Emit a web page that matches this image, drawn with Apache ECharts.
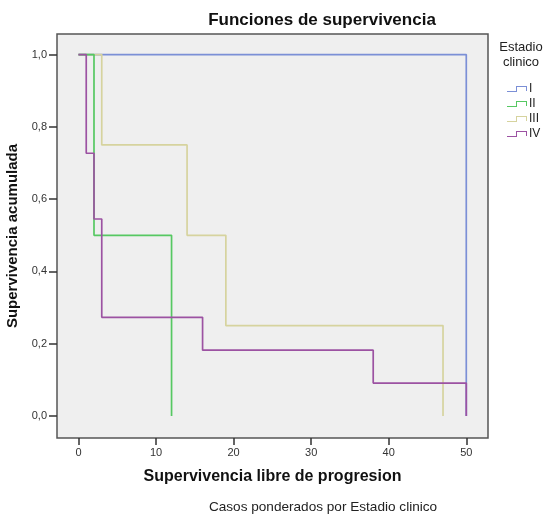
<!DOCTYPE html>
<html>
<head>
<meta charset="utf-8">
<script src="https://cdn.jsdelivr.net/npm/echarts@6/dist/echarts.min.js"></script>
<style>
html,body{margin:0;padding:0;background:#fff;}
#chart{width:544px;height:516px;}
</style>
</head>
<body>
<div id="chart"></div>
<script>
// Kaplan-Meier step data: [time, cumulative survival]
const stages = ['I', 'II', 'III', 'IV'];
const timesI = [0, 50];
const survI = [1.0, 0.0];
const timesII = [0, 2, 12];
const survII = [1.0, 0.5, 0.0];
const timesIII = [0, 3, 14, 19, 47];
const survIII = [1.0, 0.75, 0.5, 0.25, 0.0];
const timesIV = [0, 1, 2, 3, 16, 38, 50];
const survIV = [1.0, 0.727, 0.545, 0.273, 0.182, 0.091, 0.0];
const xTicks = [0, 10, 20, 30, 40, 50];
const yTicks = [0, 0.2, 0.4, 0.6, 0.8, 1.0];
const colors = ['#7b8fd6', '#56c862', '#d6d39e', '#9c52a2'];

const zip = (t, s) => t.map((v, i) => [v, s[i]]);
const seriesData = [zip(timesI, survI), zip(timesII, survII), zip(timesIII, survIII), zip(timesIV, survIV)];
const drawOrder = [0, 2, 1, 3];

const stepIcon = 'path://M0,5 L9,5 L9,0 L20,0 L20,5 L19,5 L19,1 L10,1 L10,6 L0,6 Z';

const chart = echarts.init(document.getElementById('chart'), null, {renderer: 'canvas'});
chart.setOption({
  animation: false,
  backgroundColor: '#ffffff',
  textStyle: {fontFamily: 'Liberation Sans, Arial, sans-serif'},
  grid: {
    left: 57, right: 56, top: 34, bottom: 78,
    containLabel: false, outerBoundsMode: 'none',
    show: true, backgroundColor: '#efefef', borderColor: '#555555', borderWidth: 1.5
  },
  legend: {
    orient: 'vertical',
    left: 502, top: 77,
    itemWidth: 20, itemHeight: 6, itemGap: 1,
    icon: stepIcon,
    data: stages,
    textStyle: {fontSize: 12, color: '#222', lineHeight: 14, padding: [0, 0, 0, -3]},
    selectedMode: false
  },
  graphic: [
    {type: 'text', x: 322, y: 20, style: {text: 'Funciones de supervivencia', font: 'bold 17px "Liberation Sans", Arial, sans-serif', fill: '#111', textAlign: 'center', textVerticalAlign: 'middle'}},
    {type: 'text', x: 521, y: 47, style: {text: 'Estadio', font: '13px "Liberation Sans", Arial, sans-serif', fill: '#222', textAlign: 'center', textVerticalAlign: 'middle'}},
    {type: 'text', x: 521, y: 62, style: {text: 'clinico', font: '13px "Liberation Sans", Arial, sans-serif', fill: '#222', textAlign: 'center', textVerticalAlign: 'middle'}},
    {type: 'text', x: 323, y: 507, style: {text: 'Casos ponderados por Estadio clinico', font: '13.6px "Liberation Sans", Arial, sans-serif', fill: '#222', textAlign: 'center', textVerticalAlign: 'middle'}}
  ],
  xAxis: {
    type: 'value', min: -2.77, max: 52.8,
    name: 'Supervivencia libre de progresion', nameLocation: 'middle', nameGap: 31,
    nameTextStyle: {fontSize: 16, fontWeight: 'bold', color: '#111'},
    axisLine: {show: false, onZero: false},
    axisTick: {show: true, length: 7, customValues: xTicks, lineStyle: {color: '#333', width: 1.5}},
    axisLabel: {customValues: xTicks, fontSize: 11, color: '#333', margin: 9},
    splitLine: {show: false}
  },
  yAxis: {
    type: 'value', min: -0.061, max: 1.057,
    name: 'Supervivencia acumulada', nameLocation: 'middle', nameGap: 34,
    nameTextStyle: {fontSize: 15, fontWeight: 'bold', color: '#111'},
    axisLine: {show: false, onZero: false},
    axisTick: {show: true, length: 8, customValues: yTicks, lineStyle: {color: '#333', width: 1.5}},
    axisLabel: {customValues: yTicks, fontSize: 11, color: '#333', margin: 10,
      formatter: v => v.toFixed(1).replace('.', ',')},
    splitLine: {show: false}
  },
  series: drawOrder.map(i => ({
    name: stages[i],
    type: 'line',
    step: 'end',
    data: seriesData[i],
    showSymbol: false,
    symbol: 'none',
    color: colors[i],
    lineStyle: {width: 1.7, color: colors[i]},
    itemStyle: {color: colors[i]},
    silent: true
  }))
});
</script>
</body>
</html>
